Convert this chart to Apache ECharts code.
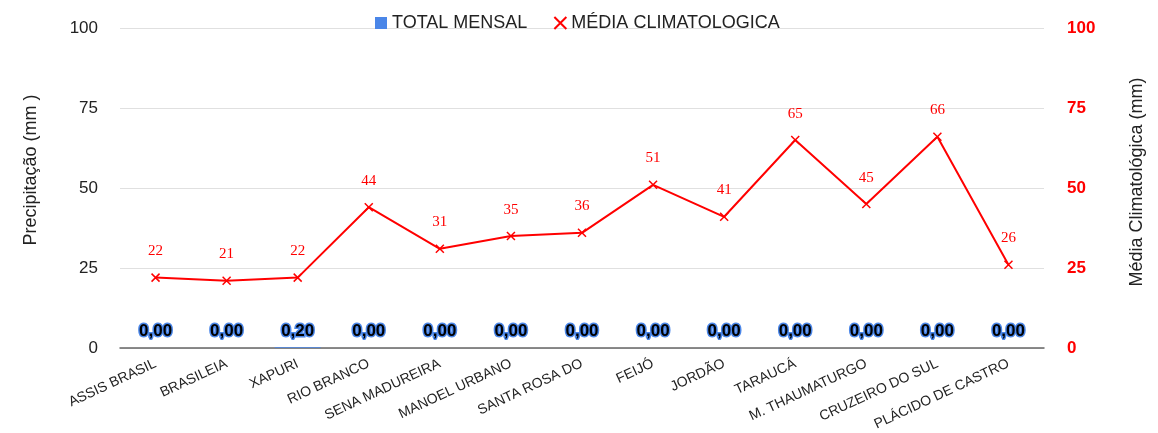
<!DOCTYPE html>
<html lang="pt">
<head>
    <meta charset="UTF-8">
    <title>Precipitação</title>
    <style>
        body { margin: 0; background: #fff; }
        #main { width: 1158px; height: 433px; }
    </style>
</head>
<body>
    <div id="main"></div>
    <script src="https://cdn.jsdelivr.net/npm/echarts@6/dist/echarts.min.js"></script>
    <script>
        var estacoes = ['ASSIS BRASIL', 'BRASILEIA', 'XAPURI', 'RIO BRANCO', 'SENA MADUREIRA',
            'MANOEL URBANO', 'SANTA ROSA DO', 'FEIJÓ', 'JORDÃO', 'TARAUCÁ',
            'M. THAUMATURGO', 'CRUZEIRO DO SUL', 'PLÁCIDO DE CASTRO'];
        var totalMensal = [0, 0, 0.2, 0, 0, 0, 0, 0, 0, 0, 0, 0, 0];
        var mediaClimatologica = [22, 21, 22, 44, 31, 35, 36, 51, 41, 65, 45, 66, 26];
        var yTicks = [0, 25, 50, 75, 100];

        var xIcon = 'path://M0,0L10,10M10,0L0,10';
        var chart = echarts.init(document.getElementById('main'));

        chart.setOption({
            animation: false,
            textStyle: { fontFamily: 'Liberation Sans, Arial, sans-serif' },
            legend: {
                top: 9,
                left: 370,
                itemWidth: 12,
                itemHeight: 12,
                itemGap: 26,
                textStyle: { fontSize: 18, color: '#222' },
                data: [
                    { name: 'TOTAL MENSAL', icon: 'rect' },
                    { name: 'MÉDIA CLIMATOLOGICA', icon: xIcon,
                      itemStyle: { color: '#ff0000', borderColor: '#ff0000', borderWidth: 2 } }
                ]
            },
            grid: { left: 120, right: 114, top: 28, bottom: 85 },
            xAxis: {
                type: 'category',
                data: estacoes,
                axisTick: { show: false },
                axisLine: { lineStyle: { color: '#666', width: 1.5 } },
                axisLabel: { rotate: 25, fontSize: 14, color: '#222', margin: 15, interval: 0 }
            },
            yAxis: [{
                type: 'value',
                min: yTicks[0], max: yTicks[yTicks.length - 1], interval: 25,
                name: 'Precipitação (mm )',
                nameLocation: 'middle',
                nameGap: 80,
                nameTextStyle: { fontSize: 18, color: '#222', padding: [0, 0, 0, 36] },
                axisLabel: { fontSize: 17, color: '#222', margin: 22 },
                splitLine: { lineStyle: { color: '#e0e0e0' } }
            }, {
                type: 'value',
                min: yTicks[0], max: yTicks[yTicks.length - 1], interval: 25,
                name: 'Média Climatológica (mm)',
                nameLocation: 'middle',
                nameGap: 84,
                nameRotate: 90,
                nameTextStyle: { fontSize: 18, color: '#222', padding: [0, 0, 0, 12] },
                axisLabel: { fontSize: 17, color: '#ff0000', fontWeight: 'bold', margin: 23 },
                splitLine: { show: false }
            }],
            series: [{
                name: 'TOTAL MENSAL',
                type: 'bar',
                data: totalMensal,
                barWidth: 46,
                itemStyle: { color: '#4a86e8' },
                label: {
                    show: true,
                    position: 'top',
                    distance: 8,
                    fontSize: 17,
                    fontWeight: 'bold',
                    color: '#000',
                    textBorderColor: '#4a86e8',
                    textBorderWidth: 3,
                    formatter: function (p) { return p.value.toFixed(2).replace('.', ','); }
                }
            }, {
                name: 'MÉDIA CLIMATOLOGICA',
                type: 'line',
                yAxisIndex: 1,
                data: mediaClimatologica,
                symbol: xIcon,
                symbolSize: 8,
                lineStyle: { color: '#ff0000', width: 2 },
                itemStyle: { color: '#ff0000', borderColor: '#ff0000', borderWidth: 1.5 },
                label: {
                    show: true,
                    position: 'top',
                    distance: 14,
                    fontSize: 15,
                    color: '#ff0000',
                    fontFamily: 'Liberation Serif, Times New Roman, serif'
                }
            }]
        });
    </script>
</body>
</html>
